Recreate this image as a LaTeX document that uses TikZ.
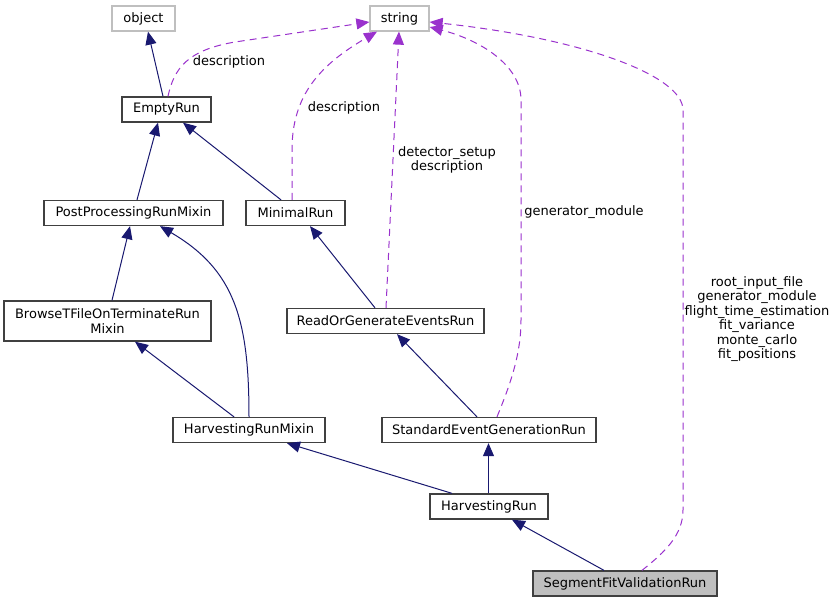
\documentclass[tikz,border=0pt]{standalone}
\usepackage{fontspec}
\setmainfont{DejaVu Sans}
\usetikzlibrary{arrows.meta}
\definecolor{navy}{HTML}{191970}
\definecolor{orchid}{HTML}{9A32CD}
\definecolor{boxgray}{HTML}{BFBFBF}
\definecolor{edgegray}{HTML}{404040}
\begin{document}
\begin{tikzpicture}[x=1pt,y=-1pt,
  cls/.style={draw=edgegray, line width=1.3pt, minimum height=25pt, inner sep=0pt, font=\fontsize{13}{14.4}\selectfont, align=center},
  ext/.style={cls, draw=boxgray},
  inh/.style={navy, line width=1pt, -{Triangle[length=13pt,width=11pt]}},
  use/.style={orchid, line width=1pt, dash pattern=on 7pt off 5pt, -{Triangle[length=13pt,width=11pt]}},
  lbl/.style={font=\fontsize{13}{14.4}\selectfont, align=center, inner sep=0pt}]
\useasboundingbox[fill=white] (0,0) rectangle (836,603);

\node[ext, minimum width=63pt] (object) at (143.5,18.5) {object};
\node[ext, minimum width=59pt] (string) at (399.5,18.5) {string};
\node[cls, minimum width=89pt] (EmptyRun) at (166.5,109.5) {EmptyRun};
\node[cls, minimum width=179pt] (PPR) at (133.5,213) {PostProcessingRunMixin};
\node[cls, minimum width=99pt] (MR) at (295.5,213) {MinimalRun};
\node[cls, minimum width=207pt, minimum height=40pt] (BT) at (107.5,321) {BrowseTFileOnTerminateRun\\Mixin};
\node[cls, minimum width=197pt] (ROG) at (385.5,321) {ReadOrGenerateEventsRun};
\node[cls, minimum width=152pt] (HRM) at (249,430) {HarvestingRunMixin};
\node[cls, minimum width=214pt] (SEGR) at (489,430) {StandardEventGenerationRun};
\node[cls, minimum width=118pt] (HR) at (489,506.5) {HarvestingRun};
\node[cls, minimum width=184pt, fill=boxgray] (SFVR) at (625,583.5) {SegmentFitValidationRun};

% inheritance
\draw[inh] ([xshift=-3.5pt]EmptyRun.north) -- ([xshift=4.5pt]object.south);
\draw[inh] ([xshift=3.5pt]PPR.north) -- ([xshift=-8.5pt]EmptyRun.south);
\draw[inh] ([xshift=-14.5pt]MR.north) -- ([xshift=16.5pt]EmptyRun.south);
\draw[inh] ([xshift=4.5pt]BT.north) -- ([xshift=-3.5pt]PPR.south);
\draw[inh] (HRM.north) .. controls (249,320) and (235,270) .. ([xshift=26.5pt]PPR.south);
\draw[inh] ([xshift=-15pt]HRM.north) -- ([xshift=27.5pt]BT.south);
\draw[inh] ([xshift=-10.5pt]ROG.north) -- ([xshift=14.5pt]MR.south);
\draw[inh] ([xshift=-12pt]SEGR.north) -- ([xshift=11.5pt]ROG.south);
\draw[inh] ([xshift=-37pt]HR.north) -- ([xshift=38pt]HRM.south);
\draw[inh] ([xshift=-0.5pt]HR.north) -- ([xshift=-0.5pt]SEGR.south);
\draw[inh] ([xshift=-21pt]SFVR.north) -- ([xshift=23pt]HR.south);

% usage
\draw[use] ([xshift=1.5pt]EmptyRun.north) .. controls (174,68) and (188,50) .. (235,42) -- ([yshift=-3.5pt]string.west);
\draw[use] ([xshift=-3.5pt]MR.north) -- (292,150) .. controls (292,95) and (320,65) .. ([xshift=-22.5pt]string.south);
\draw[use] ([xshift=0.5pt]ROG.north) -- ([xshift=-0.5pt]string.south);
\draw[use] ([xshift=8pt]SEGR.north) .. controls (510,385) and (521,355) .. (521,320) -- (521,100) .. controls (521,65) and (480,40) .. ([yshift=-8.5pt]string.east);
\draw[use] ([xshift=17pt]SFVR.north) .. controls (665,552) and (683,535) .. (683,510) -- (683,110) .. controls (683,75) and (580,38) .. ([yshift=-3.5pt]string.east);

% labels
\node[lbl] (l1) at (229,62) {description};
\node[lbl] (l2) at (344,108) {description};
\node[lbl] (l3) at (447,160) {detector\_setup\\description};
\node[lbl] (l4) at (584,212) {generator\_module};
\node[lbl] (l5) at (757,319) {root\_input\_file\\generator\_module\\flight\_time\_estimation\\fit\_variance\\monte\_carlo\\fit\_positions};
\end{tikzpicture}
\end{document}
